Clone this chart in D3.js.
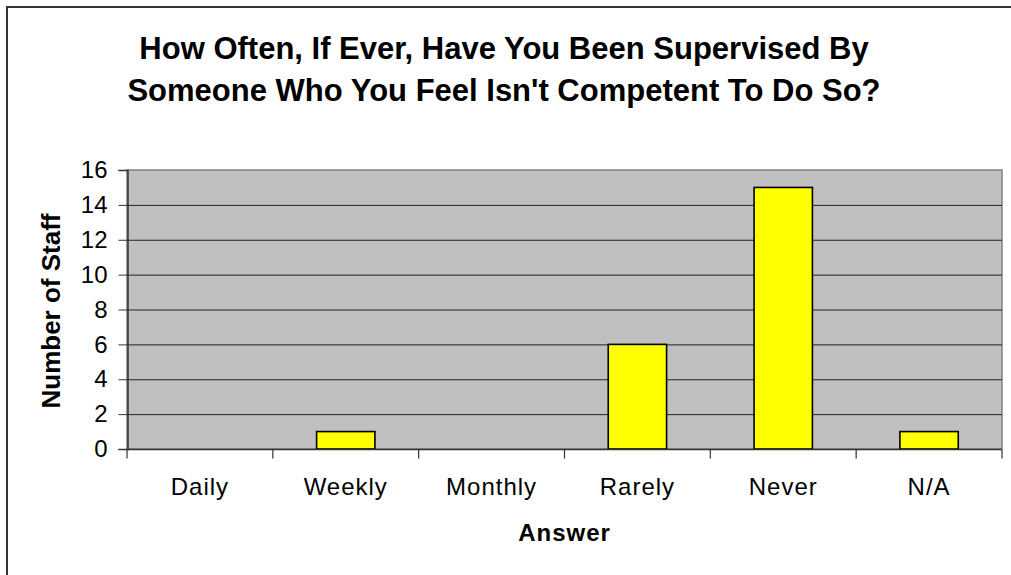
<!DOCTYPE html>
<html>
<head>
<meta charset="utf-8">
<script src="https://cdn.jsdelivr.net/npm/d3@7"></script>
<style>
    body { margin: 0; background: #fff; }
    svg { display: block; font-family: Arial, "Liberation Sans", sans-serif; }
</style>
</head>
<body>
<svg id="chart" width="1011" height="575"></svg>
<script>
var categories = ["Daily", "Weekly", "Monthly", "Rarely", "Never", "N/A"];
var staffCounts = [0, 1, 0, 6, 15, 1];
var yTicks = [0, 2, 4, 6, 8, 10, 12, 14, 16];
var titleLines = ["How Often, If Ever, Have You Been Supervised By",
    "Someone Who You Feel Isn't Competent To Do So?"];

var svg = d3.select("#chart");
var margin = { left: 127, right: 1002, top: 170, bottom: 449 };

// outer chart frame (runs off the right/bottom of the picture)
svg.append("path")
    .attr("d", "M7,1200V7H1200")
    .attr("fill", "none")
    .attr("stroke", "#333")
    .attr("stroke-width", 2);

var x = d3.scaleBand()
    .domain(categories)
    .range([margin.left, margin.right])
    .paddingInner(0.6)
    .paddingOuter(0.3);

var xOuter = d3.scaleBand()
    .domain(categories)
    .range([margin.left, margin.right]);

var y = d3.scaleLinear()
    .domain([0, 16])
    .range([margin.bottom, margin.top]);

// plot background
svg.append("rect")
    .attr("x", margin.left)
    .attr("y", margin.top)
    .attr("width", margin.right - margin.left)
    .attr("height", margin.bottom - margin.top)
    .attr("fill", "#c0c0c0")
    .attr("stroke", "#808080")
    .attr("stroke-width", 1.5);

// grid lines
svg.append("g")
    .selectAll("line")
    .data(yTicks.filter(function (d) { return d > 0 && d < 16; }))
    .enter()
    .append("line")
    .attr("x1", margin.left)
    .attr("x2", margin.right)
    .attr("y1", function (d) { return y(d) + 0.5; })
    .attr("y2", function (d) { return y(d) + 0.5; })
    .attr("stroke", "#222")
    .attr("stroke-width", 1);

// bars
svg.append("g")
    .selectAll("rect")
    .data(staffCounts)
    .enter()
    .append("rect")
    .attr("x", function (d, i) { return x(categories[i]); })
    .attr("y", function (d) { return y(d); })
    .attr("width", x.bandwidth())
    .attr("height", function (d) { return y(0) - y(d); })
    .attr("fill", "#ffff00")
    .attr("stroke", "#000")
    .attr("stroke-width", 1.6)
    .style("display", function (d) { return d > 0 ? null : "none"; });

// y axis
var yAxis = d3.axisLeft(y)
    .tickValues(yTicks)
    .tickSize(9)
    .tickPadding(11);
var yg = svg.append("g")
    .attr("transform", "translate(" + (margin.left + 0.5) + ",0)")
    .call(yAxis);
yg.select(".domain").attr("stroke", "#333").attr("stroke-width", 1.5);
yg.selectAll(".tick line").attr("stroke", "#333");
yg.selectAll(".tick text")
    .attr("font-family", "Arial, 'Liberation Sans', sans-serif")
    .attr("font-size", 24)
    .attr("fill", "#000");

// x axis with ticks on category boundaries
var xg = svg.append("g")
    .attr("transform", "translate(0," + (margin.bottom + 0.5) + ")");
xg.append("line")
    .attr("x1", margin.left)
    .attr("x2", margin.right)
    .attr("stroke", "#333")
    .attr("stroke-width", 1.5);
xg.selectAll(".xtick")
    .data(categories.concat(["end"]))
    .enter()
    .append("line")
    .attr("class", "xtick")
    .attr("x1", function (d, i) { return margin.left + i * xOuter.step(); })
    .attr("x2", function (d, i) { return margin.left + i * xOuter.step(); })
    .attr("y1", 0)
    .attr("y2", 9)
    .attr("stroke", "#333")
    .attr("stroke-width", 1.2);
xg.selectAll(".xlabel")
    .data(categories)
    .enter()
    .append("text")
    .attr("class", "xlabel")
    .attr("x", function (d) { return xOuter(d) + xOuter.bandwidth() / 2; })
    .attr("y", 45)
    .attr("text-anchor", "middle")
    .attr("font-size", 24)
    .attr("letter-spacing", 1)
    .text(function (d) { return d; });

// axis titles
svg.append("text")
    .attr("x", (margin.left + margin.right) / 2)
    .attr("y", 541)
    .attr("text-anchor", "middle")
    .attr("font-size", 24)
    .attr("font-weight", "bold")
    .attr("letter-spacing", 1)
    .text("Answer");

svg.append("text")
    .attr("transform", "translate(60,311) rotate(-90)")
    .attr("text-anchor", "middle")
    .attr("font-size", 26)
    .attr("font-weight", "bold")
    .text("Number of Staff");

// title
svg.append("g")
    .selectAll("text")
    .data(titleLines)
    .enter()
    .append("text")
    .attr("x", 504)
    .attr("y", function (d, i) { return 59 + i * 42; })
    .attr("text-anchor", "middle")
    .attr("font-size", 31)
    .attr("font-weight", "bold")
    .text(function (d) { return d; });
</script>
</body>
</html>
